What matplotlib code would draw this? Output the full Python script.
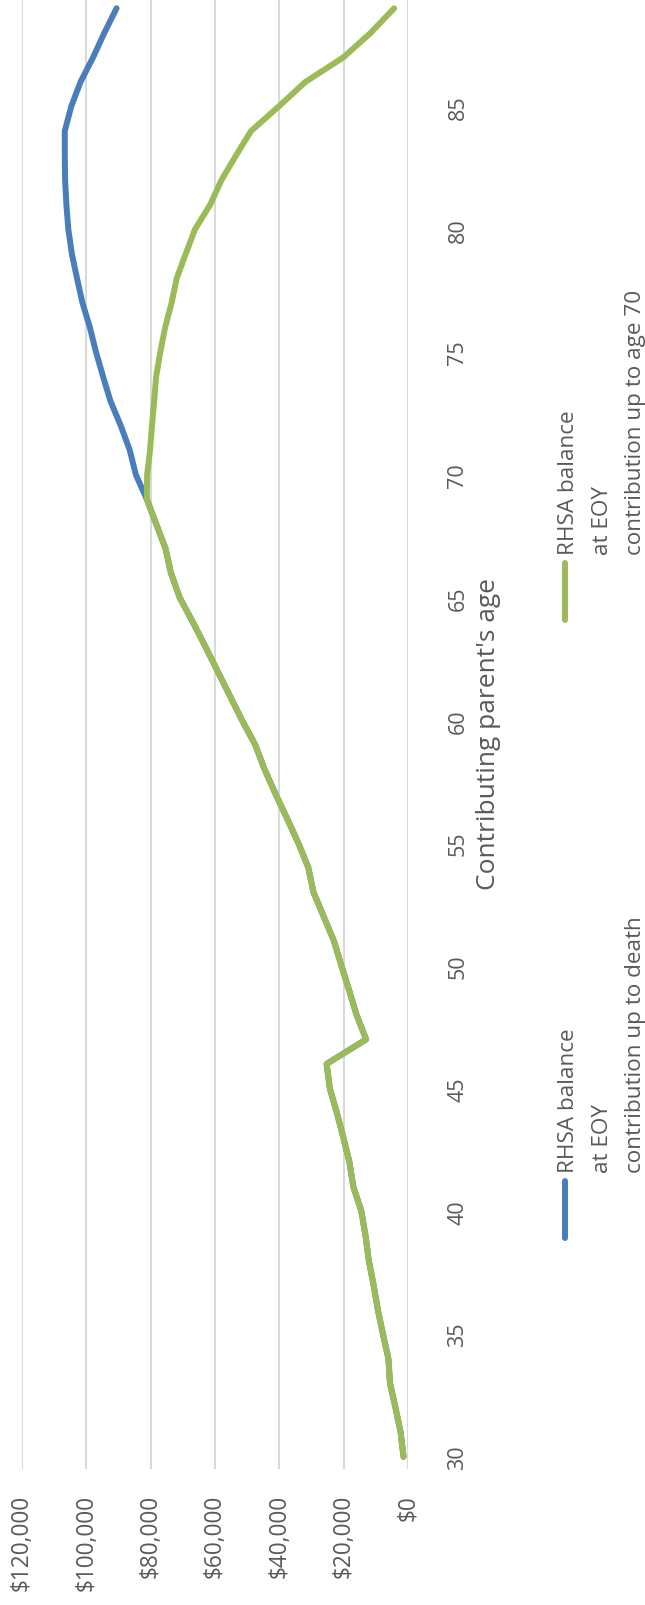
import matplotlib

matplotlib.use("Agg")
import matplotlib.pyplot as plt
from matplotlib.lines import Line2D

# chart is drawn turned 90 degrees: age runs upward, balance runs leftward
ages = list(range(30, 90))

balance_to_death = [
    1400, 2300, 3900, 5600, 6100, 7800, 9400, 10700, 12200, 13200,
    14500, 17000, 18200, 20100, 22100, 24300, 25300, 13000, 16000, 18300,
    20700, 23000, 26200, 29400, 31000, 34100, 37600, 41200, 44600, 47500,
    51600, 55400, 59200, 63000, 66900, 71000, 73700, 75400, 78300, 81200,
    84600, 86500, 89300, 92500, 94800, 97000, 98900, 101200, 102900, 104500,
    105600, 106200, 106600, 106700, 106700, 104700, 101800, 97900, 94400, 90600,
]
balance_to_70 = [
    1400, 2300, 3900, 5600, 6100, 7800, 9400, 10700, 12200, 13200,
    14500, 17000, 18200, 20100, 22100, 24300, 25300, 13000, 16000, 18300,
    20700, 23000, 26200, 29400, 31000, 34100, 37600, 41200, 44600, 47500,
    51600, 55400, 59200, 63000, 66900, 71000, 73700, 75400, 78300, 81200,
    81100, 80200, 79600, 78900, 78300, 77000, 75500, 73500, 71900, 69100,
    66200, 61500, 58000, 53500, 48800, 40200, 31900, 20100, 11600, 4300,
]

value_ticks = [0, 20000, 40000, 60000, 80000, 100000, 120000]
age_ticks = [30, 35, 40, 45, 50, 55, 60, 65, 70, 75, 80, 85]

BLUE = "#4a7ebb"
GREEN = "#9bbb59"
GRID = "#d9d9d9"
TEXT = "#595959"

plt.rcParams["font.family"] = ["Open Sans", "DejaVu Sans"]

W, H = 645, 1606
fig = plt.figure(figsize=(W / 100, H / 100), dpi=100)


def fx(px):
    return px / W


def fy(py):
    return 1 - py / H


left, right, top, bottom = 22, 408, -3, 1470
ax = fig.add_axes([fx(left), fy(bottom), fx(right - left), (bottom - top) / H])

line_kw = dict(lw=4.3, solid_capstyle="round", solid_joinstyle="round")
ax.plot(balance_to_death, ages, color=BLUE, **line_kw)
ax.plot(balance_to_70, ages, color=GREEN, **line_kw)

ax.set_xlim(120000, 0)
ax.set_ylim(29.5, 89.5)
ax.set_xticks(value_ticks)
ax.set_xticklabels([f"${v:,}" for v in value_ticks], rotation=90, fontsize=16.3, color=TEXT)
ax.yaxis.tick_right()
ax.set_yticks(age_ticks)
ax.set_yticklabels([str(a) for a in age_ticks], rotation=90, fontsize=15.5, color=TEXT,
                   va="center", ha="center")
ax.tick_params(axis="x", length=0, pad=18)
ax.tick_params(axis="y", length=0, pad=36)
ax.grid(axis="x", color=GRID, lw=1.5)
ax.set_axisbelow(True)
for s in ax.spines.values():
    s.set_visible(False)

fig.text(fx(489), fy(734), "Contributing parent's age", rotation=90,
         ha="center", va="center", fontsize=19, color=TEXT)

# legend, drawn by hand because it is turned too
legend = [
    (BLUE, 1173, 1182, ["RHSA balance", "at EOY", "contribution up to death"]),
    (GREEN, 555, 564, ["RHSA balance", "at EOY", "contribution up to age 70"]),
]
for color, text_y, mark_y, lines in legend:
    fig.add_artist(Line2D([fx(565), fx(565)], [fy(mark_y), fy(mark_y + 57)],
                          color=color, lw=4.3, solid_capstyle="round"))
    for i, txt in enumerate(lines):
        fig.text(fx(569 + 33 * i), fy(text_y), txt, rotation=90, rotation_mode="anchor",
                 ha="left", va="center", fontsize=16.2, color=TEXT)

fig.savefig("out.png", dpi=100)
